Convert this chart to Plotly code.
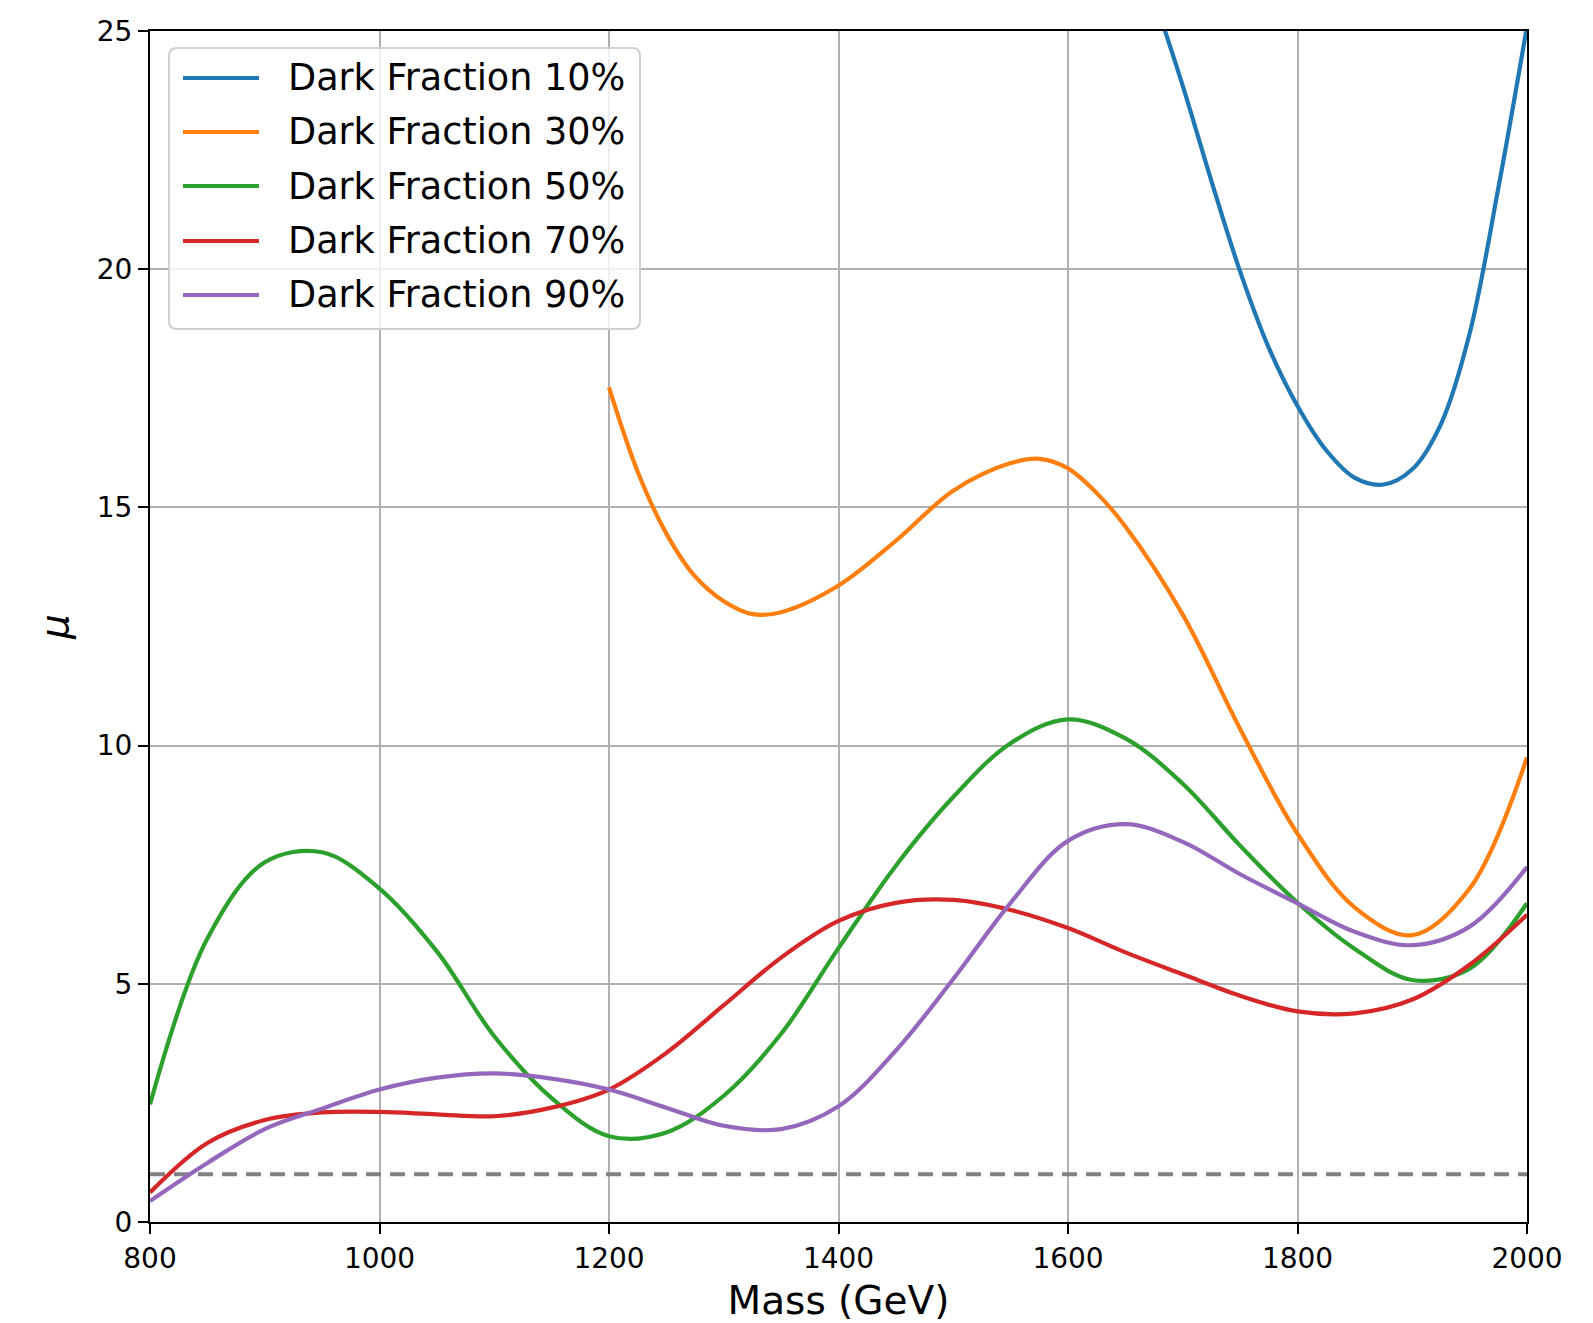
import plotly.graph_objects as go

# ---- data ----
mass = [800, 850, 900, 950, 1000, 1050, 1100, 1150, 1200, 1250, 1300, 1350, 1400,
        1450, 1500, 1550, 1600, 1650, 1700, 1750, 1800, 1850, 1900, 1950, 2000]

mass_10 = [1675, 1700, 1725, 1750, 1775, 1800, 1825, 1850, 1875, 1900, 1925, 1950, 1975, 2000]
mu_10 = [25.7, 23.85, 21.85, 19.95, 18.35, 17.13, 16.2, 15.62, 15.48, 15.8, 16.75, 18.65, 21.7, 25.1]

mass_30 = [1200, 1225, 1250, 1275, 1300, 1325, 1350, 1400, 1450, 1500, 1550, 1575, 1600, 1625,
           1650, 1700, 1750, 1800, 1850, 1900, 1950, 2000]
mu_30 = [17.52, 15.75, 14.45, 13.55, 13.03, 12.76, 12.8, 13.36, 14.3, 15.35, 15.93, 16.02, 15.82,
         15.3, 14.6, 12.75, 10.35, 8.15, 6.6, 6.02, 7.0, 9.75]

mu_50 = [2.47, 5.95, 7.55, 7.76, 7.0, 5.68, 3.9, 2.6, 1.8, 1.88, 2.65, 3.95, 5.75,
         7.48, 8.92, 10.05, 10.55, 10.15, 9.2, 7.9, 6.7, 5.73, 5.08, 5.32, 6.69]

mu_70 = [0.62, 1.66, 2.14, 2.30, 2.31, 2.26, 2.22, 2.40, 2.78, 3.55, 4.55, 5.55, 6.32,
         6.70, 6.76, 6.55, 6.17, 5.66, 5.2, 4.75, 4.42, 4.38, 4.67, 5.4, 6.45]

mu_90 = [0.44, 1.24, 1.95, 2.38, 2.78, 3.03, 3.12, 3.01, 2.78, 2.4, 2.02, 1.95, 2.43,
         3.6, 5.1, 6.7, 8.0, 8.35, 7.98, 7.3, 6.69, 6.09, 5.81, 6.2, 7.45]

reference_mu = 1.0
x_range = [800, 2000]
y_range = [0, 25]
x_ticks = [800, 1000, 1200, 1400, 1600, 1800, 2000]
y_ticks = [0, 5, 10, 15, 20, 25]

labels = ["Dark Fraction 10%", "Dark Fraction 30%", "Dark Fraction 50%",
          "Dark Fraction 70%", "Dark Fraction 90%"]
colors = ["#1f77b4", "#ff7f0e", "#2ca02c", "#d62728", "#9467bd"]
xs_all = [mass_10, mass_30, mass, mass, mass]
ys_all = [mu_10, mu_30, mu_50, mu_70, mu_90]

FONT = "DejaVu Sans"
W, H = 1593, 1323
ML, MR, MT, MB = 150, 66, 31, 101
PW, PH = W - ML - MR, H - MT - MB


def px2x(px):
    return (px - ML) / PW


def py2y(py):
    return (H - MB - py) / PH


fig = go.Figure()

fig.add_trace(go.Scatter(
    x=x_range, y=[reference_mu, reference_mu], mode="lines",
    line=dict(color="#808080", width=4, dash="15px,9px"),
    showlegend=False, hoverinfo="skip"))

for name, xs, ys, color in zip(labels, xs_all, ys_all, colors):
    fig.add_trace(go.Scatter(
        x=xs, y=ys, mode="lines", name=name, showlegend=False,
        line=dict(color=color, width=4.2, shape="spline", smoothing=1.0)))

# ---- legend (matplotlib style box) ----
bx0, bx1, by0, by1 = 169, 640, 48, 329
r = 8
rx, ry = r / PW, r / PH
X0, X1, Y0, Y1 = px2x(bx0), px2x(bx1), py2y(by1), py2y(by0)
path = (f"M {X0+rx},{Y0} L {X1-rx},{Y0} Q {X1},{Y0} {X1},{Y0+ry} "
        f"L {X1},{Y1-ry} Q {X1},{Y1} {X1-rx},{Y1} L {X0+rx},{Y1} "
        f"Q {X0},{Y1} {X0},{Y1-ry} L {X0},{Y0+ry} Q {X0},{Y0} {X0+rx},{Y0} Z")
shapes = [dict(type="path", xref="paper", yref="paper", path=path,
               fillcolor="rgba(255,255,255,0.8)", line=dict(color="#d0d0d0", width=2),
               layer="above")]
annotations = []
row_y = [78, 132, 186, 241, 295]
for name, color, ry_px in zip(labels, colors, row_y):
    yy = py2y(ry_px)
    shapes.append(dict(type="line", xref="paper", yref="paper",
                       x0=px2x(183), x1=px2x(259), y0=yy, y1=yy,
                       line=dict(color=color, width=4.2), layer="above"))
    annotations.append(dict(xref="paper", yref="paper", x=px2x(286), y=yy,
                            text=name, showarrow=False, xanchor="left", yanchor="middle",
                            font=dict(family=FONT, size=36.6, color="black")))

fig.update_layout(
    width=W, height=H,
    margin=dict(l=ML, r=MR, t=MT, b=MB, autoexpand=False),
    paper_bgcolor="white", plot_bgcolor="white",
    font=dict(family=FONT, color="black", size=28),
    showlegend=False, shapes=shapes, annotations=annotations,
)

fig.update_xaxes(
    range=x_range, tickvals=x_ticks, ticks="outside", ticklen=10, tickwidth=2.2,
    tickcolor="black", showline=True, linecolor="black", linewidth=2.2, mirror=True,
    showgrid=True, gridcolor="#b0b0b0", gridwidth=2.2, zeroline=False, automargin=False,
    tickfont=dict(family=FONT, size=28),
    title=dict(text="Mass (GeV)", font=dict(family=FONT, size=39), standoff=16),
)
fig.update_yaxes(
    range=y_range, tickvals=y_ticks, ticks="outside", ticklen=10, tickwidth=2.2,
    tickcolor="black", showline=True, linecolor="black", linewidth=2.2, mirror=True,
    showgrid=True, gridcolor="#b0b0b0", gridwidth=2.2, zeroline=False, automargin=False,
    tickfont=dict(family=FONT, size=28),
    title=dict(text="<i>μ</i>", font=dict(family=FONT, size=39), standoff=16),
)

fig.write_html("out.html")
